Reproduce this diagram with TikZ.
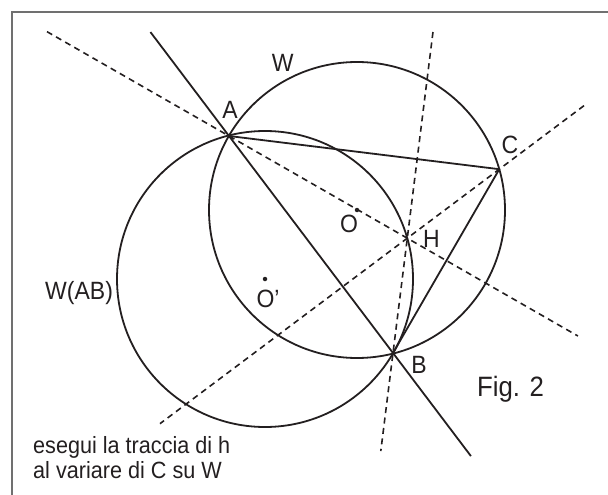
\documentclass[tikz,border=0pt]{standalone}
\usepackage{fontspec}
\setmainfont{Liberation Sans}[FakeStretch=0.92]
\usetikzlibrary{calc}
\definecolor{ink}{HTML}{231F20}
\definecolor{rule}{HTML}{707070}
\tikzset{
  circ/.style={draw=ink,line width=1.8pt},
  seg/.style={draw=ink,line width=1.8pt},
  dline/.style={draw=ink,line width=1.6pt,dash pattern=on 6pt off 4.5pt},
  frm/.style={draw=rule,line width=1.5pt},
  lbl/.style={font=\fontsize{25}{28}\selectfont,text=ink,inner sep=0pt},
  pnt/.style={circle,fill=ink,inner sep=0pt,minimum size=4.5pt},
}
\begin{document}
\begin{tikzpicture}[x=1pt,y=-1pt]
\useasboundingbox (0,0) rectangle (608,495);
\draw[frm] (12,495) -- (12,12) -- (608,12);
% triangle, circumcentre, orthocentre
\coordinate (A) at (229,136);
\coordinate (B) at (393,353);
\coordinate (O) at (357,210);
\coordinate (C) at (499.3,169.2);
\coordinate (H) at ($(A)+(B)+(C)-2*(O)$);
\coordinate (Op) at ($(A)+(B)-(O)$);
% ends of the long lines
\coordinate (ab1) at ($(A)!-0.479!(B)$);
\coordinate (ab2) at ($(A)!1.475!(B)$);
\coordinate (ah1) at ($(A)!-1.021!(H)$);
\coordinate (ah2) at ($(A)!1.957!(H)$);
\coordinate (bh1) at ($(B)!2.796!(H)$);
\coordinate (bh2) at ($(B)!-0.854!(H)$);
\coordinate (ch1) at ($(C)!-0.921!(H)$);
\coordinate (ch2) at ($(C)!3.688!(H)$);
\draw[circ] (O) circle[radius=148pt];
\draw[circ] (Op) circle[radius=148pt];
\draw[seg] (A) -- (C);\draw[seg] (C) -- (B);\draw[seg] (ab1) -- (ab2);
\draw[dline] (ah1) -- (ah2);\draw[dline] (bh1) -- (bh2);\draw[dline] (ch1) -- (ch2);
\node[pnt] (o) at (O) {};
\node[pnt] (op) at (Op) {};
\node[lbl] (lA) at (230,109.5) {A};
\node[lbl] (lB) at (419,365.3) {B};
\node[lbl] (lC) at (510,144.5) {C};
\node[lbl] (lH) at (431.5,239) {H};
\node[lbl] (lO) at (349,224) {O};
\node[lbl] (lOp) at (268,299) {O’};
\node[lbl] (lW) at (282.7,62.5) {W};
\node[lbl,anchor=base west] (lWab) at (45,299.3) {W(AB)};
\node[lbl,font=\fontsize{28}{32}\selectfont,anchor=base west] (fig) at (477,396.7) {Fig. 2};
\node[lbl,font=\fontsize{23.5}{26}\selectfont,anchor=base west] (note1) at (33,453.3) {esegui la traccia di h};
\node[lbl,font=\fontsize{23.5}{26}\selectfont,anchor=base west] (note2) at (33,478.3) {al variare di C su W};
\end{tikzpicture}
\end{document}
